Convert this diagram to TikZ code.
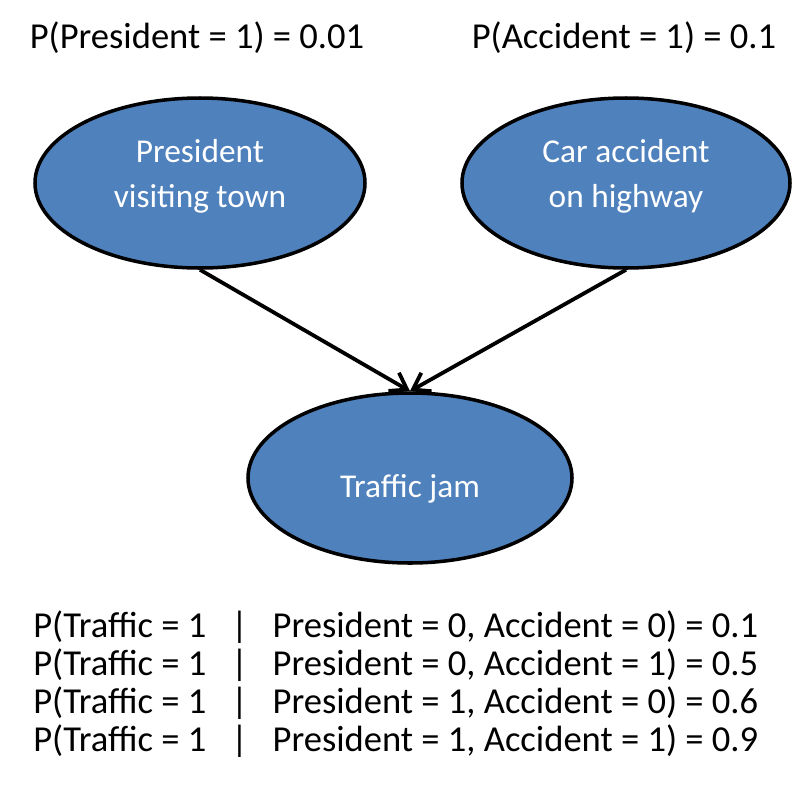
\documentclass[tikz,border=0pt]{standalone}
\usepackage{fontspec}
\setmainfont{Carlito}
\usetikzlibrary{shapes.geometric,arrows.meta}

\definecolor{nodeblue}{RGB}{79,129,189}

\tikzset{
  varnode/.style={ellipse, draw=black, line width=2.5pt, fill=nodeblue, inner sep=0pt},
  nodetext/.style={text=white, align=center, inner sep=0pt, font=\fontsize{23.7}{32}\selectfont},
  probtext/.style={font=\fontsize{26}{27}\selectfont, inner sep=0pt},
  edge/.style={line width=2.7pt, -{Straight Barb[length=11pt,width=15pt,line width=2.7pt]}}
}

\begin{document}
\begin{tikzpicture}[x=0.025cm, y=-0.025cm]

\useasboundingbox (0,0) rectangle (805,791);

% ---------- Wezly ----------
\node[varnode, minimum width=330*0.025cm, minimum height=170*0.025cm,
  label={[nodetext, yshift=5pt]center:President\\visiting town}] (president) at (200,183) {};
\node[varnode, minimum width=328*0.025cm, minimum height=170*0.025cm,
  label={[nodetext, yshift=5pt]center:Car accident\\on highway}] (accident) at (626,183) {};
\node[varnode, minimum width=324*0.025cm, minimum height=170*0.025cm,
  label={[nodetext, yshift=-8pt]center:Traffic jam}] (traffic) at (410,478) {};

% ---------- Krawedzie ----------
\draw[edge] (president.south) -- (traffic.north);
\draw[edge] (accident.south) -- (traffic.north);

% ---------- Prawdopodobienstwa a priori ----------
\node[probtext] (pprior) at (197,38) {P(President = 1) = 0.01};
\node[probtext] (aprior) at (624,38) {P(Accident = 1) = 0.1};

% ---------- Tabela warunkowa ----------
\foreach \p/\a/\v [count=\i from 0] in {0/0/0.1, 0/1/0.5, 1/0/0.6, 1/1/0.9}
  \node[probtext, anchor=west] (cpt\i) at (33,627+38*\i)
    {P(Traffic = 1\hspace{0.45em} | \hspace{0.45em}President = \p, Accident = \a) = \v};

\end{tikzpicture}
\end{document}
